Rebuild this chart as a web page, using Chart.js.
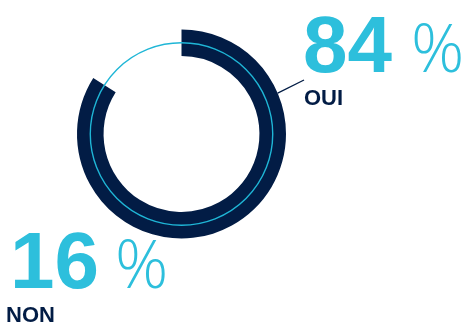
<!DOCTYPE html>
<html>
<head>
<meta charset="utf-8">
<script src="https://cdn.jsdelivr.net/npm/chart.js@4/dist/chart.umd.min.js"></script>
<style>
  html, body { margin: 0; padding: 0; background: #fff; }
  #wrap { position: relative; width: 465px; height: 323px; }
</style>
</head>
<body>
<div id="wrap"><canvas id="pollChart"></canvas></div>
<script>
// survey answers
const answers = ['OUI', 'NON'];
const shares = [84, 16];

const navy = '#021c45';
const cyan = '#2dbfdc';

// thin cyan guide ring + leader line + big percentage labels
const ringDecor = {
    id: 'ringDecor',
    afterDatasetsDraw(chart) {
        const arc = chart.getDatasetMeta(0).data[0];
        if (!arc) return;
        const { x, y, innerRadius, outerRadius } = arc.getProps(['x', 'y', 'innerRadius', 'outerRadius'], true);
        const ctx = chart.ctx;
        ctx.save();

        // full guide circle through the middle of the band
        ctx.beginPath();
        ctx.arc(x, y, (innerRadius + outerRadius) / 2, 0, Math.PI * 2);
        ctx.strokeStyle = '#1fb6d6';
        ctx.lineWidth = 1.4;
        ctx.stroke();

        // leader line from the ring to the OUI label
        const a = (67 - 90) * Math.PI / 180;
        ctx.beginPath();
        ctx.moveTo(x + Math.cos(a) * outerRadius, y + Math.sin(a) * outerRadius);
        ctx.lineTo(304, 80);
        ctx.strokeStyle = navy;
        ctx.lineWidth = 1.3;
        ctx.stroke();

        // labels
        ctx.textBaseline = 'alphabetic';
        ctx.textAlign = 'left';
        const drawLabel = (value, name, nx, ny, lx, ly, gap) => {
            ctx.fillStyle = cyan;
            ctx.font = 'bold 80px "Liberation Sans", Arial, sans-serif';
            ctx.fillText(String(value), nx, ny);
            const w = ctx.measureText(String(value)).width;
            ctx.font = '300 66px "Open Sans", Lato, sans-serif';
            ctx.fillText('%', nx + w + gap, ny);
            ctx.fillStyle = navy;
            ctx.font = 'bold 22px "Liberation Sans", Arial, sans-serif';
            ctx.fillText(name, lx, ly);
        };
        drawLabel(shares[0], answers[0], 303, 72, 304, 105, 19);
        drawLabel(shares[1], answers[1], 10, 288, 6, 322, 16);

        ctx.restore();
    }
};

new Chart(document.getElementById('pollChart'), {
    type: 'doughnut',
    data: {
        labels: answers,
        datasets: [{
            data: shares,
            backgroundColor: [navy, 'rgba(0,0,0,0)'],
            borderWidth: 0,
            hoverOffset: 0
        }]
    },
    options: {
        responsive: true,
        maintainAspectRatio: false,
        animation: false,
        cutout: '74.6%',
        layout: { padding: { left: 77, top: 29.5, right: 179, bottom: 84.5 } },
        plugins: {
            legend: { display: false },
            tooltip: { enabled: false }
        }
    },
    plugins: [ringDecor]
});
</script>
</body>
</html>
